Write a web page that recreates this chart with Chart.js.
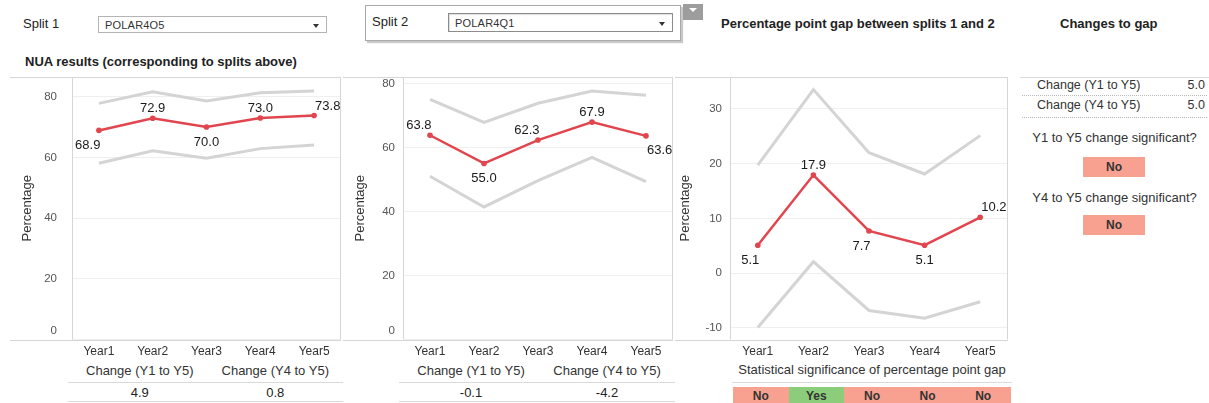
<!DOCTYPE html>
<html>
<head>
<meta charset="utf-8">
<script src="https://cdn.jsdelivr.net/npm/chart.js@4.4.1/dist/chart.umd.min.js"></script>
<style>
  html, body { margin: 0; padding: 0; }
  body {
    width: 1209px; height: 403px; overflow: hidden; position: relative;
    background: #fff; color: #222;
    font-family: "Liberation Sans", Arial, sans-serif;
  }
  .abs { position: absolute; }
  .txt { position: absolute; white-space: nowrap; font-size: 13px; line-height: 16px; }
  .bold { font-weight: bold; }
  .ctr { text-align: center; }
  .dd {
    position: absolute; box-sizing: border-box; background: #fff;
    border: 1px solid #b4b4b4; font-size: 11px; color: #333;
  }
  .dd span { position: absolute; left: 6px; top: 50%; transform: translateY(-50%); letter-spacing: 0.2px; }
  .dd i {
    position: absolute; right: 7px; top: 50%; margin-top: -1px; width: 0; height: 0;
    border-left: 3px solid transparent; border-right: 3px solid transparent; border-top: 4px solid #333;
  }
  .chartBox { position: absolute; top: 70px; height: 292px; }
  .rule { position: absolute; height: 0; border-top: 1px solid #d9d9d9; }
  .dots { position: absolute; height: 0; border-top: 1px dotted #b8b8b8; }
  .cell {
    position: absolute; box-sizing: border-box; text-align: center;
    font-size: 12px; font-weight: bold; color: #333;
  }
</style>
</head>
<body>

<!-- filter controls -->
<div class="txt" style="left:23px; top:16px;">Split 1</div>
<div class="dd" style="left:98px; top:16px; width:229px; height:17px;"><span>POLAR4O5</span><i></i></div>

<div class="abs" style="left:365px; top:5px; width:316px; height:36px; box-sizing:border-box; border:1px solid #a9a9a9; box-shadow:2px 2px 1px #c9c9c9; background:#fff;"></div>
<div class="txt" style="left:372px; top:14px;">Split 2</div>
<div class="dd" style="left:448px; top:13px; width:225px; height:19px; border-color:#8c8c8c; box-shadow: inset 1px 1px 1px #ddd;"><span>POLAR4Q1</span><i></i></div>
<div class="abs" style="left:683px; top:4px; width:20px; height:16px; background:#9d9d9d;">
  <div class="abs" style="left:6px; top:4px; width:0; height:0; border-left:4px solid transparent; border-right:4px solid transparent; border-top:4px solid #fff;"></div>
</div>

<div class="txt bold" style="left:25px; top:54px;">NUA results (corresponding to splits above)</div>
<div class="txt bold" style="left:721px; top:16px;">Percentage point gap between splits 1 and 2</div>
<div class="txt bold" style="left:1060px; top:16px;">Changes to gap</div>

<!-- chart panels -->
<div class="chartBox" style="left:10px; width:335px;"><canvas id="split1Chart"></canvas></div>
<div class="chartBox" style="left:343px; width:334px;"><canvas id="split2Chart"></canvas></div>
<div class="chartBox" style="left:675px; width:337px;"><canvas id="gapChart"></canvas></div>

<div id="tables"></div>

<script>
// ---- data ----
const years = ['Year1', 'Year2', 'Year3', 'Year4', 'Year5'];

const split1Values = [68.9, 72.9, 70.0, 73.0, 73.8];
const split1Upper  = [77.8, 81.6, 78.6, 81.3, 81.9];
const split1Lower  = [58.1, 62.2, 59.7, 62.9, 64.1];
const split1Ticks  = [0, 20, 40, 60, 80];

const split2Values = [63.8, 55.0, 62.3, 67.9, 63.6];
const split2Upper  = [75.0, 67.8, 73.8, 77.6, 76.3];
const split2Lower  = [51.0, 41.4, 49.6, 56.9, 49.3];
const split2Ticks  = [0, 20, 40, 60, 80];

const gapValues = [5.1, 17.9, 7.7, 5.1, 10.2];
const gapUpper  = [19.7, 33.5, 22.0, 18.1, 25.1];
const gapLower  = [-9.9, 2.1, -6.8, -8.2, -5.2];
const gapTicks  = [-10, 0, 10, 20, 30];
const gapSignificance = ['No', 'Yes', 'No', 'No', 'No'];

const changeHeaders = ['Change (Y1 to Y5)', 'Change (Y4 to Y5)'];
const split1Changes = [4.9, 0.8];
const split2Changes = [-0.1, -4.2];
const gapChanges = [5.0, 5.0];
const gapChangeQuestions = ['Y1 to Y5 change significant?', 'Y4 to Y5 change significant?'];
const gapChangeSignificance = ['No', 'No'];

// ---- styling ----
const NARROW = '"Liberation Sans Narrow", "Arial Narrow", "Liberation Sans", Arial, sans-serif';
const SANS = '"Liberation Sans", Arial, sans-serif';
const RED = '#e1464e';
const BAND = '#d4d4d4';
const FRAME = '#d6d6d6';
const SIG_COLORS = { No: '#f8a190', Yes: '#8ccd7b' };

// frame, y tick labels, y title and point value labels
const panelPlugin = {
  id: 'panel',
  beforeDatasetsDraw(chart, args, o) {
    const { ctx, chartArea: a } = chart;
    ctx.save();
    ctx.strokeStyle = FRAME;
    ctx.lineWidth = 1;
    ctx.beginPath();
    ctx.moveTo(0, Math.round(a.top) + 0.5); ctx.lineTo(a.right, Math.round(a.top) + 0.5);
    ctx.moveTo(0, Math.round(a.bottom) + 0.5); ctx.lineTo(a.right, Math.round(a.bottom) + 0.5);
    ctx.moveTo(Math.round(a.left) + 0.5, a.top); ctx.lineTo(Math.round(a.left) + 0.5, a.bottom);
    ctx.moveTo(Math.round(a.right) - 0.5, a.top); ctx.lineTo(Math.round(a.right) - 0.5, a.bottom);
    ctx.stroke();
    ctx.restore();
  },
  afterDraw(chart, args, o) {
    const { ctx, chartArea: a } = chart;
    const ys = chart.scales.y;
    ctx.save();
    // y tick labels
    ctx.font = '11.5px ' + NARROW;
    ctx.fillStyle = '#555';
    ctx.textAlign = 'right';
    ctx.textBaseline = 'middle';
    ys.ticks.forEach(t => {
      let y = ys.getPixelForValue(t.value);
      if (y > a.bottom - 8.5) y = a.bottom - 8.5;
      ctx.fillText(String(t.value), a.left - o.tickGap, y);
    });
    // y title
    ctx.font = '13px ' + SANS;
    ctx.fillStyle = '#333';
    ctx.textAlign = 'center';
    ctx.translate(a.left - o.titleOffset, (a.top + a.bottom) / 2);
    ctx.rotate(-Math.PI / 2);
    ctx.fillText('Percentage', 0, 0);
    ctx.restore();

    // value labels on the main series
    const meta = chart.getDatasetMeta(2);
    const values = chart.data.datasets[2].data;
    ctx.save();
    ctx.font = '13px ' + SANS;
    ctx.fillStyle = '#1a1a1a';
    ctx.textBaseline = 'middle';
    meta.data.forEach((pt, i) => {
      const place = o.placements[i];
      const above = place[0] === 't';
      const y = pt.y + (above ? -9.5 : 15);
      let x = pt.x;
      if (place.length === 1) { ctx.textAlign = 'center'; }
      else if (place[1] === 'l') { ctx.textAlign = 'right'; x = pt.x + 1.5; }
      else { ctx.textAlign = 'left'; x = pt.x + 1; }
      ctx.fillText(values[i].toFixed(1), x, y);
    });
    ctx.restore();
  }
};

function makeChart(id, values, upper, lower, ticks, yMin, yMax, axisWidth, padRight, tickGap, titleOffset, placements) {
  return new Chart(document.getElementById(id), {
    type: 'line',
    data: {
      labels: years,
      datasets: [
        { data: upper, borderColor: BAND, borderWidth: 3, pointRadius: 0, tension: 0 },
        { data: lower, borderColor: BAND, borderWidth: 3, pointRadius: 0, tension: 0 },
        { data: values, borderColor: RED, backgroundColor: RED, borderWidth: 2.5,
          pointRadius: 2.8, pointBackgroundColor: RED, pointBorderWidth: 0, tension: 0 }
      ]
    },
    options: {
      responsive: true,
      maintainAspectRatio: false,
      animation: false,
      events: [],
      layout: { padding: { left: 0, right: padRight, top: 7, bottom: 0 } },
      plugins: {
        legend: { display: false },
        tooltip: { enabled: false },
        panel: { tickGap, titleOffset, placements }
      },
      scales: {
        x: {
          type: 'category',
          offset: true,
          grid: { display: false, drawTicks: false },
          border: { display: false },
          ticks: { color: '#333', font: { family: NARROW, size: 12 }, padding: 5,
                   maxRotation: 0, autoSkip: false },
          afterFit(s) { s.height = 22.5; }
        },
        y: {
          min: yMin, max: yMax,
          grid: { color: '#efefef', drawTicks: false },
          border: { display: false },
          ticks: { display: false },
          afterBuildTicks(s) { s.ticks = ticks.map(v => ({ value: v })); },
          afterFit(s) { s.width = axisWidth; }
        }
      }
    },
    plugins: [panelPlugin]
  });
}

makeChart('split1Chart', split1Values, split1Upper, split1Lower, split1Ticks, 0, 86.5, 62, 2, 15, 45,
          ['bl', 't', 'b', 't', 'tr']);
makeChart('split2Chart', split2Values, split2Upper, split2Lower, split2Ticks, 0, 82, 60, 2, 8, 43,
          ['tl', 'b', 'tl', 't', 'br']);
makeChart('gapChart', gapValues, gapUpper, gapLower, gapTicks, -12.1, 35.8, 55, 4, 8, 45,
          ['bl', 't', 'bl', 'b', 'tr']);

// ---- tables under and beside the charts ----
const host = document.getElementById('tables');
function el(cls, style, text) {
  const d = document.createElement('div');
  d.className = cls;
  d.setAttribute('style', style);
  if (text !== undefined) d.textContent = text;
  host.appendChild(d);
  return d;
}
const fmt = v => v.toFixed(1);

function changeTable(left, right, values) {
  const half = (right - left) / 2;
  changeHeaders.forEach((h, i) => {
    el('txt ctr', `left:${left + i * half}px; width:${half}px; top:363px; color:#333;`, h);
    el('txt ctr', `left:${left + i * half}px; width:${half}px; top:385px; color:#222;`, fmt(values[i]));
  });
  el('rule', `left:${left - 4}px; width:${right - left + 4}px; top:382px;`);
  el('rule', `left:${left - 4}px; width:${right - left + 4}px; top:401px;`);
}
changeTable(72, 343, split1Changes);
changeTable(403, 675, split2Changes);

// significance row for the gap chart
el('txt ctr', 'left:730px; width:284px; top:362px; color:#333;', 'Statistical significance of percentage point gap');
el('rule', 'left:732px; width:280px; top:382px;');
const cellW = (1008 - 730) / gapSignificance.length;
gapSignificance.forEach((s, i) => {
  el('cell', `left:${733 + i * cellW}px; width:${cellW}px; top:387px; height:16px; line-height:18px; background:${SIG_COLORS[s]};`, s);
});

// changes to gap panel
el('rule', 'left:1020px; width:189px; top:77px;');
changeHeaders.forEach((h, i) => {
  const top = 77 + i * 20;
  el('txt', `left:1037px; top:${top}px; font-size:12.5px; color:#333;`, h);
  el('txt', `left:1150px; width:55px; text-align:right; top:${top}px; font-size:12.5px; color:#333;`, fmt(gapChanges[i]));
  el('dots', `left:1022px; width:185px; top:${95 + i * 22}px;`);
});
gapChangeQuestions.forEach((q, i) => {
  const top = 130 + i * 60;
  el('txt ctr', `left:1020px; width:189px; top:${top}px; color:#333;`, q);
  const s = gapChangeSignificance[i];
  el('cell', `left:1083px; width:62px; top:${157 + i * 58}px; height:20px; line-height:20px; background:${SIG_COLORS[s]};`, s);
});
</script>
</body>
</html>
